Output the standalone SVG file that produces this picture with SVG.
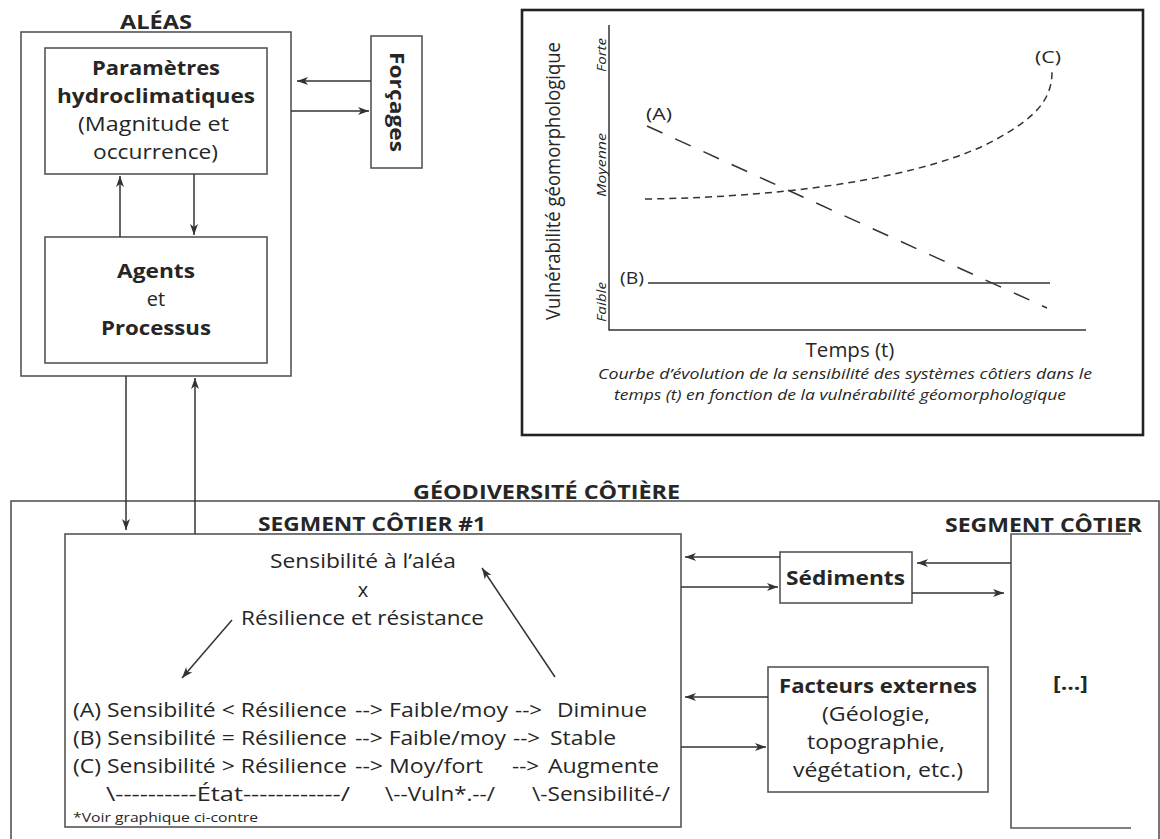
<svg xmlns="http://www.w3.org/2000/svg" width="1160" height="839" viewBox="0 0 1160 839">
<style>
text{font-family:"Open Sans","Noto Sans","Liberation Sans",sans-serif;fill:#262626}
.b{font-weight:bold}
.it{font-style:italic}
.box{fill:none;stroke:#555;stroke-width:1.6}
.arr{fill:none;stroke:#333;stroke-width:1.5;marker-end:url(#ah)}
.ax{fill:none;stroke:#333;stroke-width:1.5}
.row{font-size:20px}
</style>
<defs>
<marker id="ah" markerUnits="userSpaceOnUse" markerWidth="12" markerHeight="10" refX="11" refY="4" orient="auto">
<path d="M0,0 L11,4 L0,8 L3,4 Z" fill="#333"/>
</marker>
</defs>
<rect x="0" y="0" width="1160" height="839" fill="#fff"/>

<g id="aleas">
<rect class="box" x="21" y="32" width="270" height="344"/>
<text class="b" x="120" y="29" font-size="19.5" textLength="72" lengthAdjust="spacingAndGlyphs">ALÉAS</text>
</g>

<g id="parametres">
<rect class="box" x="45" y="48" width="222" height="126"/>
<text class="b" x="92" y="75" font-size="19" textLength="128" lengthAdjust="spacingAndGlyphs">Paramètres</text>
<text class="b" x="57" y="103" font-size="19" textLength="198" lengthAdjust="spacingAndGlyphs">hydroclimatiques</text>
<text x="78" y="131" font-size="20" textLength="151" lengthAdjust="spacingAndGlyphs">(Magnitude et</text>
<text x="93" y="159" font-size="20" textLength="125" lengthAdjust="spacingAndGlyphs">occurrence)</text>
</g>

<g id="agents">
<rect class="box" x="45" y="237" width="222" height="126"/>
<text class="b" x="117" y="278" font-size="19" textLength="78" lengthAdjust="spacingAndGlyphs">Agents</text>
<text x="156" y="306" font-size="20" text-anchor="middle">et</text>
<text class="b" x="101" y="335" font-size="19" textLength="110" lengthAdjust="spacingAndGlyphs">Processus</text>
</g>

<g id="forcages">
<rect class="box" x="371" y="36" width="51" height="132"/>
<text class="b" transform="translate(390,102) rotate(90)" text-anchor="middle" font-size="19" textLength="100" lengthAdjust="spacingAndGlyphs">Forçages</text>
</g>

<g id="graphique">
<rect x="522" y="10" width="621" height="425" fill="none" stroke="#222" stroke-width="2.6"/>
<path class="ax" d="M609,25 V330 H1086"/>
<line x1="647" y1="126" x2="1047" y2="308" stroke="#333" stroke-width="1.5" stroke-dasharray="17 14"/>
<line x1="648" y1="283" x2="1050" y2="283" stroke="#333" stroke-width="1.5"/>
<path d="M645,199 C800,197 930,175 995,140 C1035,118 1052,100 1052,72" fill="none" stroke="#333" stroke-width="1.5" stroke-dasharray="7 5"/>
<text x="646" y="120" font-size="17" textLength="26" lengthAdjust="spacingAndGlyphs">(A)</text>
<text x="620" y="284" font-size="17" textLength="24" lengthAdjust="spacingAndGlyphs">(B)</text>
<text x="1035" y="63" font-size="17" textLength="26" lengthAdjust="spacingAndGlyphs">(C)</text>
<text transform="translate(560,181) rotate(-90)" text-anchor="middle" font-size="20" textLength="278" lengthAdjust="spacingAndGlyphs">Vulnérabilité géomorphologique</text>
<text class="it" transform="translate(606,55) rotate(-90)" text-anchor="middle" font-size="13" textLength="34" lengthAdjust="spacingAndGlyphs">Forte</text>
<text class="it" transform="translate(606,165) rotate(-90)" text-anchor="middle" font-size="13" textLength="64" lengthAdjust="spacingAndGlyphs">Moyenne</text>
<text class="it" transform="translate(606,302) rotate(-90)" text-anchor="middle" font-size="13" textLength="40" lengthAdjust="spacingAndGlyphs">Faible</text>
<text x="850" y="357" font-size="20.5" text-anchor="middle">Temps (t)</text>
<text class="it" x="598" y="379" font-size="15" textLength="494" lengthAdjust="spacingAndGlyphs">Courbe d’évolution de la sensibilité des systèmes côtiers dans le</text>
<text class="it" x="614" y="400" font-size="15" textLength="452" lengthAdjust="spacingAndGlyphs">temps (t) en fonction de la vulnérabilité géomorphologique</text>
</g>

<g id="geodiversite">
<rect class="box" x="11" y="501" width="1148" height="400"/>
<text class="b" x="413" y="499" font-size="19" textLength="267" lengthAdjust="spacingAndGlyphs">GÉODIVERSITÉ CÔTIÈRE</text>
</g>

<g id="segment1">
<rect class="box" x="65" y="534" width="616" height="293"/>
<text class="b" x="258" y="531" font-size="20" textLength="228" lengthAdjust="spacingAndGlyphs">SEGMENT CÔTIER #1</text>
<text x="270" y="568" font-size="20" textLength="186" lengthAdjust="spacingAndGlyphs">Sensibilité à l’aléa</text>
<text x="363" y="597" font-size="20" text-anchor="middle">x</text>
<text x="241" y="625" font-size="20" textLength="243" lengthAdjust="spacingAndGlyphs">Résilience et résistance</text>
<text class="row" y="717"><tspan x="73" textLength="274" lengthAdjust="spacingAndGlyphs">(A) Sensibilité &lt; Résilience</tspan> <tspan x="355" textLength="153" lengthAdjust="spacingAndGlyphs">--&gt; Faible/moy</tspan> <tspan x="515" textLength="27" lengthAdjust="spacingAndGlyphs">--&gt;</tspan>  <tspan x="557" textLength="90" lengthAdjust="spacingAndGlyphs">Diminue</tspan></text>
<text class="row" y="745"><tspan x="73" textLength="274" lengthAdjust="spacingAndGlyphs">(B) Sensibilité = Résilience</tspan> <tspan x="355" textLength="151" lengthAdjust="spacingAndGlyphs">--&gt; Faible/moy</tspan> <tspan x="513" textLength="27" lengthAdjust="spacingAndGlyphs">--&gt;</tspan> <tspan x="550" textLength="66" lengthAdjust="spacingAndGlyphs">Stable</tspan></text>
<text class="row" y="773"><tspan x="73" textLength="274" lengthAdjust="spacingAndGlyphs">(C) Sensibilité &gt; Résilience</tspan> <tspan x="355" textLength="128" lengthAdjust="spacingAndGlyphs">--&gt; Moy/fort</tspan> <tspan x="512" textLength="27" lengthAdjust="spacingAndGlyphs">--&gt;</tspan> <tspan x="548" textLength="111" lengthAdjust="spacingAndGlyphs">Augmente</tspan></text>
<text class="row" y="801"><tspan x="106" textLength="244" lengthAdjust="spacingAndGlyphs">\----------État------------/</tspan> <tspan x="385" textLength="110" lengthAdjust="spacingAndGlyphs">\--Vuln*.--/</tspan> <tspan x="532" textLength="138" lengthAdjust="spacingAndGlyphs">\-Sensibilité-/</tspan></text>
<text x="73" y="822" font-size="13.5" textLength="185" lengthAdjust="spacingAndGlyphs">*Voir graphique ci-contre</text>
</g>

<g id="sediments">
<rect class="box" x="780" y="552" width="132" height="51"/>
<text class="b" x="786" y="585" font-size="20" textLength="119" lengthAdjust="spacingAndGlyphs">Sédiments</text>
</g>

<g id="facteurs">
<rect class="box" x="768" y="667" width="220" height="125"/>
<text class="b" x="779" y="693" font-size="20" textLength="198" lengthAdjust="spacingAndGlyphs">Facteurs externes</text>
<text x="822" y="721" font-size="20" textLength="108" lengthAdjust="spacingAndGlyphs">(Géologie,</text>
<text x="807" y="749" font-size="20" textLength="138" lengthAdjust="spacingAndGlyphs">topographie,</text>
<text x="793" y="777" font-size="20" textLength="170" lengthAdjust="spacingAndGlyphs">végétation, etc.)</text>
</g>

<g id="segment2">
<path class="box" d="M1131,534 H1011 V828 H1131"/>
<text class="b" x="945" y="532" font-size="20" textLength="197" lengthAdjust="spacingAndGlyphs">SEGMENT CÔTIER</text>
<text class="b" x="1053" y="690" font-size="20" textLength="35" lengthAdjust="spacingAndGlyphs">[...]</text>
</g>

<g id="connectors">
<line class="arr" x1="371" y1="81" x2="297" y2="81"/>
<line class="arr" x1="291" y1="111" x2="369" y2="111"/>
<line class="arr" x1="120" y1="237" x2="120" y2="176"/>
<line class="arr" x1="194" y1="174" x2="194" y2="235"/>
<line class="arr" x1="126" y1="376" x2="126" y2="530"/>
<line class="arr" x1="195" y1="534" x2="195" y2="378"/>
<line class="arr" x1="555" y1="677" x2="482" y2="568"/>
<line class="arr" x1="232" y1="620" x2="182" y2="678"/>
<line class="arr" x1="780" y1="557" x2="685" y2="557"/>
<line class="arr" x1="681" y1="587" x2="778" y2="587"/>
<line class="arr" x1="1011" y1="563" x2="917" y2="563"/>
<line class="arr" x1="912" y1="593" x2="1004" y2="593"/>
<line class="arr" x1="768" y1="697" x2="685" y2="697"/>
<line class="arr" x1="681" y1="747" x2="766" y2="747"/>
</g>
</svg>
